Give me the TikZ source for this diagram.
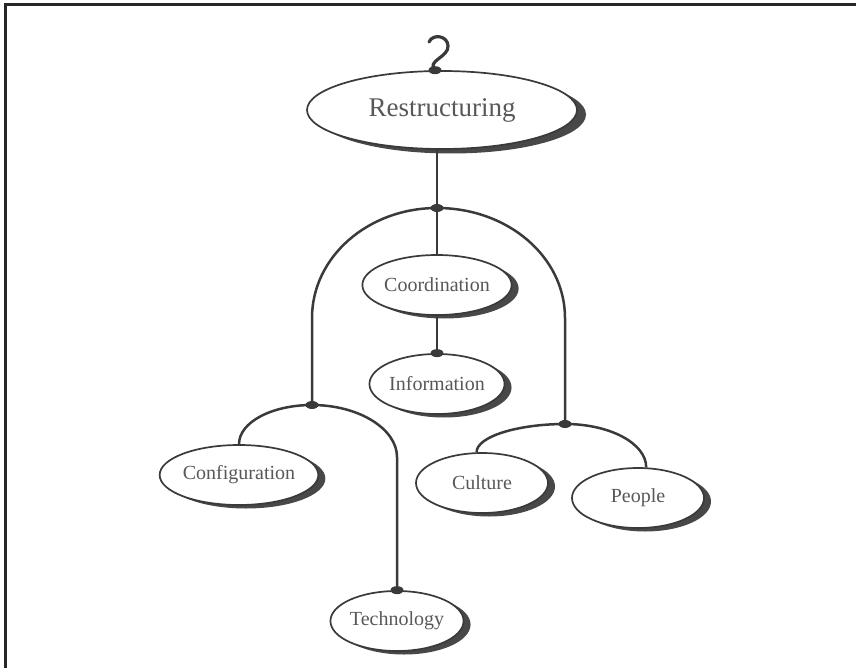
\documentclass[tikz,border=0pt]{standalone}
\usepackage{fontspec}
\setmainfont{Liberation Serif}
\newfontfamily\corps{Liberation Serif}
\usetikzlibrary{shapes.geometric,shadows}
\definecolor{encre}{RGB}{58,58,58}
\definecolor{ombre}{RGB}{72,72,72}
\definecolor{texte}{RGB}{88,88,88}

\begin{document}
\begin{tikzpicture}[x=1pt, y=-1pt, color=encre, line width=2.5pt,
  bulle/.style={ellipse, draw=encre, line width=1.7pt, fill=white, text=texte,
    inner sep=0pt, minimum width=132pt, minimum height=60pt,
    font=\corps\fontsize{20}{24}\selectfont,
    drop shadow={shadow xshift=#1, shadow yshift=-#1/2, fill=ombre, opacity=1}},
  bulle/.default=7pt,
  noeud/.style={ellipse, fill=encre, minimum width=13pt, minimum height=8pt, inner sep=0pt}]
\useasboundingbox (0,0) rectangle (856,668);
\draw[line width=3pt, black!85] (5.5,668) -- (5.5,4.5) -- (856,4.5);

\node[bulle=9pt, minimum width=270pt, minimum height=78pt,
  font=\corps\fontsize{27}{32}\selectfont] (restr) at (442,110) {Restructuring};
\foreach \nom/\x/\y/\lab in {coord/437/285/Coordination, info/437/384/Information,
  config/239/475/Configuration, tech/397/621/Technology,
  cult/482/483/Culture, peop/638/498/People}
  \node[bulle] (\nom) at (\x,\y) {\lab};

\node[noeud] (crochet) at (restr.100) {};
\node[noeud] (j1) at (437,208) {};
\node[noeud] (j2) at (312,405) {};
\node[noeud] (j3) at (565,424) {};
\node[noeud] (jinfo) at (info.north) {};
\node[noeud] (jtech) at (tech.north) {};

\draw[line cap=round, line width=3.2pt] (crochet.center) .. controls (426,61) and (449,57) .. (448,46)
  .. controls (448,36) and (433,33) .. (429,42);
\draw (j1 |- restr.south) -- (j1.center) -- (coord.north);
\draw (coord.south) -- (jinfo.center);
\draw (j1.center) .. controls +(-69,0) and +(0,-61) .. ++(-125,110) -- (j2.center);
\draw (j1.center) .. controls +(71,0) and +(0,-61) .. ++(128,110) -- (j3.center);
\draw (j2.center) .. controls +(-40,0) and +(0,-22) .. (config.north);
\draw (j2.center) .. controls +(47,0) and +(0,-28) .. ++(85,52) -- (jtech.center);
\draw (j3.center) .. controls +(-46,0) and +(0,-16) .. (cult.100);
\draw (j3.center) .. controls +(45,0) and +(0,-24) .. (peop.75);
\end{tikzpicture}
\end{document}
